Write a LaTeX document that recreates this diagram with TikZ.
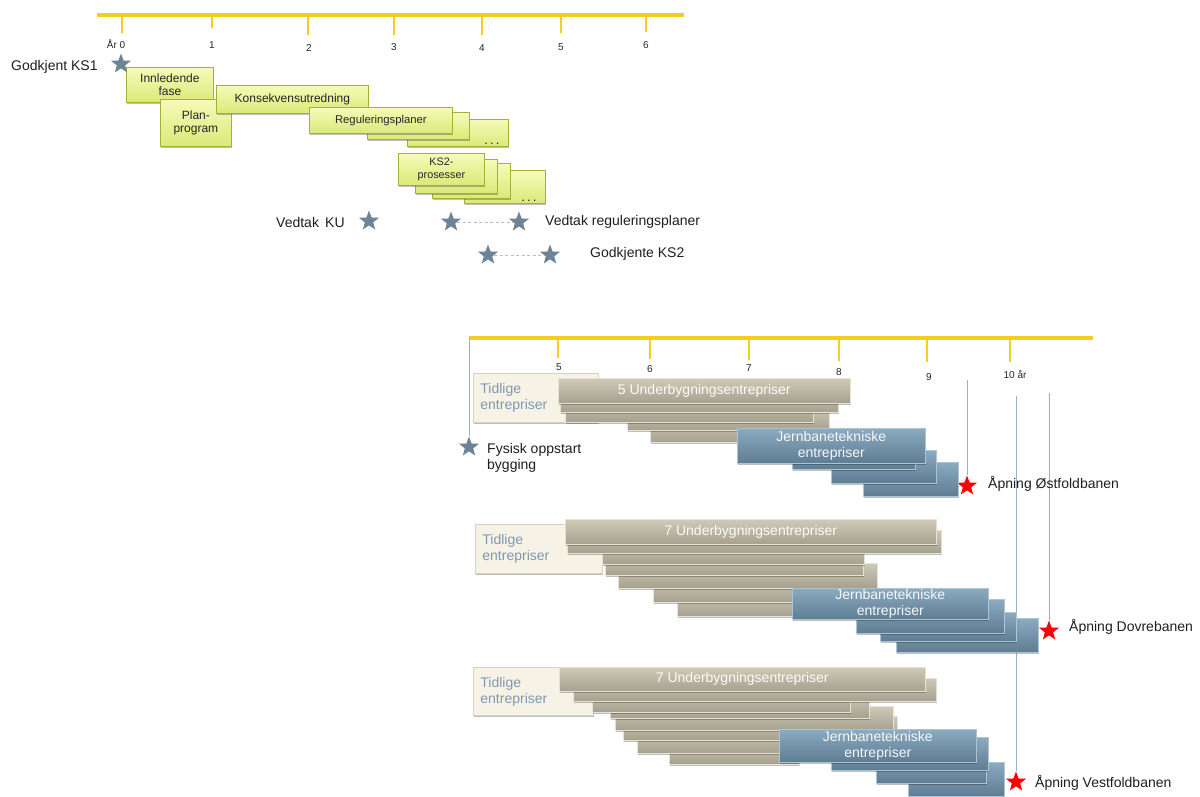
\documentclass[tikz,border=0pt]{standalone}
\usepackage{fontspec}
\setmainfont{Liberation Sans}
\usetikzlibrary{shapes.geometric,shadows}
\definecolor{axisY}{HTML}{F4CE1E}
\definecolor{greenT}{HTML}{F6FBB8}
\definecolor{greenBot}{HTML}{DAE978}
\definecolor{greenDraw}{HTML}{A3B235}
\definecolor{grayT}{HTML}{CFCAB6}
\definecolor{grayBot}{HTML}{A5A18E}
\definecolor{grayDraw}{HTML}{E6E2D4}
\definecolor{blueT}{HTML}{8BABC0}
\definecolor{blueBot}{HTML}{5E7C92}
\definecolor{blueDraw}{HTML}{AFC4D2}
\definecolor{tidFill}{HTML}{F6F3E6}
\definecolor{tidDraw}{HTML}{D6D2C0}
\definecolor{tidText}{HTML}{7F98B0}
\definecolor{starGray}{HTML}{6E8396}
\definecolor{lineBlue}{HTML}{9DB0C0}
\tikzset{
  axisline/.style={draw=axisY, line width=3.5pt},
  tickline/.style={draw=axisY, line width=2.5pt},
  axlbl/.style={font=\fontsize{10}{11}\selectfont, text=black!85, inner sep=0pt},
  lbl/.style={font=\fontsize{14}{16}\selectfont, text=black!88, inner sep=0pt, anchor=west, align=left},
  shad/.style={drop shadow={shadow xshift=1pt, shadow yshift=-1.5pt, opacity=0.25, fill=black}},
  gbox/.style={shad, draw=greenDraw, line width=0.8pt, top color=greenT, bottom color=greenBot, inner sep=0pt, align=center, font=\fontsize{12}{13.5}\selectfont, text=black!85},
  graybar/.style={shad, draw=grayDraw, line width=0.6pt, top color=grayT, bottom color=grayBot, inner sep=0pt, align=center, font=\fontsize{14}{16}\selectfont, text=white!92!grayT},
  bluebar/.style={shad, draw=blueDraw, line width=0.6pt, top color=blueT, bottom color=blueBot, inner sep=0pt, align=center, font=\fontsize{14}{16}\selectfont, text=white!92!blueT},
  tidbox/.style={shad, draw=tidDraw, line width=0.8pt, fill=tidFill, inner xsep=7pt, inner ysep=0pt, align=left, font=\fontsize{14}{16}\selectfont, text=tidText},
  gstar/.style={star, star points=5, star point ratio=2.4, fill=starGray, minimum size=21pt, inner sep=0pt},
  rstar/.style={star, star points=5, star point ratio=2.4, fill=red, minimum size=21pt, inner sep=0pt},
  vline/.style={draw=lineBlue, line width=0.8pt},
  dline/.style={draw=lineBlue!80, line width=1pt, dash pattern=on 3pt off 2.5pt},
  dots/.style={label={[anchor=south east, inner sep=0pt, xshift=-9pt, yshift=2pt, font=\fontsize{13}{13}\selectfont, text=black!85]south east:.\,.\,.}}
}
% \bx{style}{name}{x,y}{w}{h}{text}
\newcommand{\bx}[6]{\node[#1, anchor=north west, minimum width=#4pt, minimum height=#5pt] (#2) at (#3) {#6};}
\newcommand{\tid}[4]{\node[tidbox, anchor=north west, text width=#3pt, minimum height=#4pt] (#1) at (#2) {Tidlige\\entrepriser};}
\begin{document}
\begin{tikzpicture}[x=1pt,y=-1pt]
\useasboundingbox[fill=white] (0,0) rectangle (1200,796);

% ---------------- top timeline ----------------
\coordinate (axA) at (97,15);
\coordinate (axB) at (684,15);
\draw[axisline] (axA) -- (axB);
\foreach \x/\e in {122/33,212/28,308/35,394/35,482/35,561/33,646/32}{
  \draw[tickline] (\x,15) -- (\x,\e);
}
\node[axlbl] (ty0) at (116,44) {År 0};
\node[axlbl] (ty1) at (212,45) {1};
\node[axlbl] (ty2) at (309,48) {2};
\node[axlbl] (ty3) at (394,47) {3};
\node[axlbl] (ty4) at (482,48) {4};
\node[axlbl] (ty5) at (561,47) {5};
\node[axlbl] (ty6) at (646,45) {6};

\node[lbl] (ks1t) at (11,67) {Godkjent KS1};

\bx{gbox}{innl}{126,67}{87}{35}{Innledende\\fase}
\bx{gbox}{plan}{160,99}{71}{47}{Plan-\\program}
\bx{gbox}{kons}{216,85}{152}{28}{Konsekvensutredning}
\bx{gbox,dots}{reg3}{407,119}{101}{27}{}
\bx{gbox}{reg2}{367,112}{102}{27}{}
\bx{gbox,font=\fontsize{11.3}{13}\selectfont}{reg1}{309,107}{143}{26}{Reguleringsplaner}

\bx{gbox,dots}{ks4}{464,170}{81}{33}{}
\bx{gbox}{ks3}{432,163}{78}{35}{}
\bx{gbox}{ks2}{415,159}{82}{34}{}
\bx{gbox,font=\fontsize{10.8}{12.8}\selectfont}{ks1}{398,153}{86}{32}{KS2-\\prosesser}

\node[gstar] (sKS1) at (121,64) {};

\node[lbl] (vku) at (276,222) {Vedtak\, KU};
\node[gstar] (sKU) at (369,221) {};
\node[gstar] (sR1) at (451,222) {};
\node[gstar] (sR2) at (519,222) {};
\draw[dline] (sR1) -- (sR2);
\node[lbl] (vreg) at (545,222) {Vedtak reguleringsplaner};
\node[gstar] (sK1) at (488,255) {};
\node[gstar] (sK2) at (550,255) {};
\draw[dline] (sK1) -- (sK2);
\node[lbl] (gks2) at (590,254) {Godkjente KS2};

% ---------------- bottom timeline ----------------
\coordinate (bxA) at (469,338);
\coordinate (bxB) at (1093,338);
\draw[axisline] (bxA) -- (bxB);
\foreach \x/\e in {558/358,650/359,749/360,839/361,927/362,1010/362}{
  \draw[tickline] (\x,338) -- (\x,\e);
}
\node[axlbl] (by5) at (559,367) {5};
\node[axlbl] (by6) at (650,369) {6};
\node[axlbl] (by7) at (749,368) {7};
\node[axlbl] (by8) at (839,372) {8};
\node[axlbl] (by9) at (929,377) {9};
\node[axlbl] (by10) at (1015,375) {10 år};

\node[gstar] (sFys) at (469,447) {};
\draw[vline] (bxA) -- (sFys.north);
\node[lbl] (fys) at (487,458) {Fysisk oppstart\\bygging};

% vertical lines
\coordinate (v1) at (967,380);
\coordinate (v2) at (1016,396);
\coordinate (v3) at (1049,393);
\node[rstar] (rO) at (967,486) {};
\node[rstar] (rD) at (1049,631) {};
\node[rstar] (rV) at (1016,782) {};
\draw[vline] (v1) -- (rO.north);
\draw[vline] (v3) -- (rD.north);
\draw[vline] (v2) -- (rV.north);

% ----- section 1 -----
\tid{tid1}{473,373}{111}{49}
\bx{graybar}{g1e}{650,418}{150}{24}{}
\bx{graybar}{g1d}{627,406}{202}{24}{}
\bx{graybar}{g1c}{565,397}{248}{25}{}
\bx{graybar}{g1b}{560,387}{278}{25}{}
\bx{graybar}{g1a}{558,378}{292}{25}{5 Underbygningsentrepriser}
\bx{bluebar}{b1d}{863,462}{95}{34}{}
\bx{bluebar}{b1c}{831,450}{105}{33}{}
\bx{bluebar}{b1b}{792,440}{123}{29}{}
\bx{bluebar}{b1a}{737,428}{188}{35}{Jernbanetekniske\\entrepriser}
\node[lbl] (tO) at (988,484) {Åpning Østfoldbanen};

% ----- section 2 -----
\tid{tid2}{475,524}{113}{49}
\bx{graybar}{g2g}{677,592}{130}{24}{}
\bx{graybar}{g2f}{653,578}{150}{24}{}
\bx{graybar}{g2e}{618,563}{259}{25}{}
\bx{graybar}{g2d}{605,551}{258}{24}{}
\bx{graybar}{g2c}{602,540}{262}{24}{}
\bx{graybar}{g2b}{567,530}{374}{23}{}
\bx{graybar}{g2a}{565,519}{371}{25}{7 Underbygningsentrepriser}
\bx{bluebar}{b2d}{896,618}{142}{34}{}
\bx{bluebar}{b2c}{880,612}{136}{29}{}
\bx{bluebar}{b2b}{856,599}{148}{34}{}
\bx{bluebar}{b2a}{792,588}{196}{31}{Jernbanetekniske\\entrepriser}
\node[lbl] (tD) at (1069,627) {Åpning Dovrebanen};

% ----- section 3 -----
\tid{tid3}{473,667}{106}{48}
\bx{graybar}{g3h}{669,740}{130}{24}{}
\bx{graybar}{g3g}{637,729}{160}{24}{}
\bx{graybar}{g3f}{623,716}{274}{24}{}
\bx{graybar}{g3e}{615,706}{278}{24}{}
\bx{graybar}{g3d}{610,694}{259}{24}{}
\bx{graybar}{g3c}{592,688}{258}{24}{}
\bx{graybar}{g3b}{573,678}{363}{23}{}
\bx{graybar}{g3a}{559,667}{366}{24}{7 Underbygningsentrepriser}
\bx{bluebar}{b3d}{908,762}{96}{34}{}
\bx{bluebar}{b3c}{876,750}{110}{33}{}
\bx{bluebar}{b3b}{831,737}{157}{33}{}
\bx{bluebar}{b3a}{779,729}{197}{33}{Jernbanetekniske\\entrepriser}
\node[lbl] (tV) at (1035,783) {Åpning Vestfoldbanen};
\end{tikzpicture}
\end{document}
